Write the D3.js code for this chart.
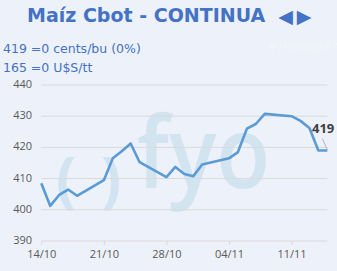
<!DOCTYPE html>
<html>
<head>
<meta charset="utf-8">
<script src="https://cdn.jsdelivr.net/npm/d3@7"></script>
<style>
  html, body { margin: 0; padding: 0; background: #edf1f9; }
  svg { display: block; }
</style>
</head>
<body>
<svg id="chart" width="337" height="271"></svg>
<script>
// Datos de la serie (cents/bu), días hábiles
const fechas = ["2024-10-14","2024-10-15","2024-10-16","2024-10-17","2024-10-18",
  "2024-10-21","2024-10-22","2024-10-23","2024-10-24","2024-10-25",
  "2024-10-28","2024-10-29","2024-10-30","2024-10-31","2024-11-01",
  "2024-11-04","2024-11-05","2024-11-06","2024-11-07","2024-11-08",
  "2024-11-11","2024-11-12","2024-11-13","2024-11-14","2024-11-15"];
const precios = [408.5, 401.25, 404.75, 406.5, 404.5,
  409.5, 416.5, 418.75, 421.25, 415.25,
  410.5, 413.75, 411.5, 410.75, 414.5,
  416.5, 418.5, 426, 427.5, 430.75,
  430, 428.5, 426.25, 419, 419];
const yTicks = [390, 400, 410, 420, 430, 440];
const xTicks = ["2024-10-14", "2024-10-21", "2024-10-28", "2024-11-04", "2024-11-11"];

const titulo = "Maíz Cbot - CONTINUA";
const lineas = ["419 =0 cents/bu (0%)", "165 =0 U$S/tt"];

const parse = d3.timeParse("%Y-%m-%d");
const datos = fechas.map((f, i) => ({ fecha: parse(f), valor: precios[i] }));

const svg = d3.select("#chart");
const azul = "#4472c4";

const x = d3.scaleTime()
  .domain([parse("2024-10-14"), parse("2024-11-15")])
  .range([41.3, 327.3]);
const y = d3.scaleLinear().domain([390, 440]).range([241, 85]);

// Título y flechas
svg.append("text")
  .attr("x", 27).attr("y", 22)
  .style("font-family", "DejaVu Sans")
  .style("font-weight", "bold")
  .style("font-size", "19px")
  .style("fill", azul)
  .text(titulo);
[["◀", 285.5], ["▶", 304]].forEach(([s, cx]) => {
  svg.append("text")
    .attr("x", cx).attr("y", 22.5)
    .attr("text-anchor", "middle")
    .style("font-family", "DejaVu Sans")
    .style("font-size", "19px")
    .style("fill", azul)
    .text(s);
});

lineas.forEach((t, i) => {
  svg.append("text")
    .attr("x", 3).attr("y", 53 + i * 19)
    .style("font-family", "DejaVu Sans")
    .style("font-size", "12.5px")
    .style("fill", azul)
    .text(t);
});
svg.append("text")
  .attr("x", 268).attr("y", 50)
  .style("font-family", "DejaVu Sans")
  .style("font-size", "11px")
  .style("fill", "#f3f5fb")
  .text("#¿NOMBRE?");

// Marca de agua
const gMarca = svg.append("g").style("fill", "#d3e4f1");
gMarca.append("text").attr("x", 56).attr("y", 201)
  .style("font-family", "Open Sans").style("font-weight", "bold").style("font-size", "60px")
  .text("(");
gMarca.append("text").attr("x", 101).attr("y", 201)
  .style("font-family", "Open Sans").style("font-weight", "bold").style("font-size", "60px")
  .text(")");
gMarca.append("text").attr("x", 137).attr("y", 188)
  .attr("textLength", 133).attr("lengthAdjust", "spacingAndGlyphs")
  .style("font-family", "Open Sans").style("font-weight", "600").style("font-size", "100px")
  .text("fyo");

// Grilla y eje Y
const gY = svg.append("g");
yTicks.forEach(v => {
  gY.append("line")
    .attr("x1", x.range()[0]).attr("x2", x.range()[1])
    .attr("y1", y(v)).attr("y2", y(v))
    .attr("stroke", "#d9d9d9").attr("stroke-width", 1);
  gY.append("text")
    .attr("x", 32).attr("y", y(v))
    .attr("text-anchor", "end")
    .attr("dominant-baseline", "middle")
    .style("font-family", "Open Sans")
    .style("font-size", "11px")
    .style("fill", "#595959")
    .text(v);
});

// Eje X
const gX = svg.append("g")
  .attr("transform", `translate(0,${y(390)})`)
  .call(d3.axisBottom(x)
    .tickValues(xTicks.map(parse))
    .tickFormat(d3.timeFormat("%d/%m"))
    .tickSize(4)
    .tickPadding(5));
gX.select(".domain").remove();
gX.selectAll("line").attr("stroke", "#d9d9d9");
gX.selectAll("text")
  .style("font-family", "Open Sans")
  .style("font-size", "11px")
  .style("fill", "#595959");

// Línea
const linea = d3.line().x(d => x(d.fecha)).y(d => y(d.valor));
svg.append("path")
  .datum(datos)
  .attr("d", linea)
  .attr("fill", "none")
  .attr("stroke", "#5b9bd5")
  .attr("stroke-width", 2.6)
  .attr("stroke-linejoin", "round");

// Etiqueta del último valor
const ult = datos[datos.length - 1];
svg.append("line")
  .attr("x1", x(ult.fecha) - 5).attr("y1", y(ult.valor) - 12)
  .attr("x2", x(ult.fecha)).attr("y2", y(ult.valor) - 1)
  .attr("stroke", "#a6a6a6").attr("stroke-width", 0.8);
svg.append("text")
  .attr("x", x(ult.fecha) + 7).attr("y", y(ult.valor) - 18)
  .attr("text-anchor", "end")
  .style("font-family", "Open Sans")
  .style("font-weight", "bold")
  .style("font-size", "13px")
  .style("fill", "#404040")
  .text(Math.round(ult.valor));
</script>
</body>
</html>
